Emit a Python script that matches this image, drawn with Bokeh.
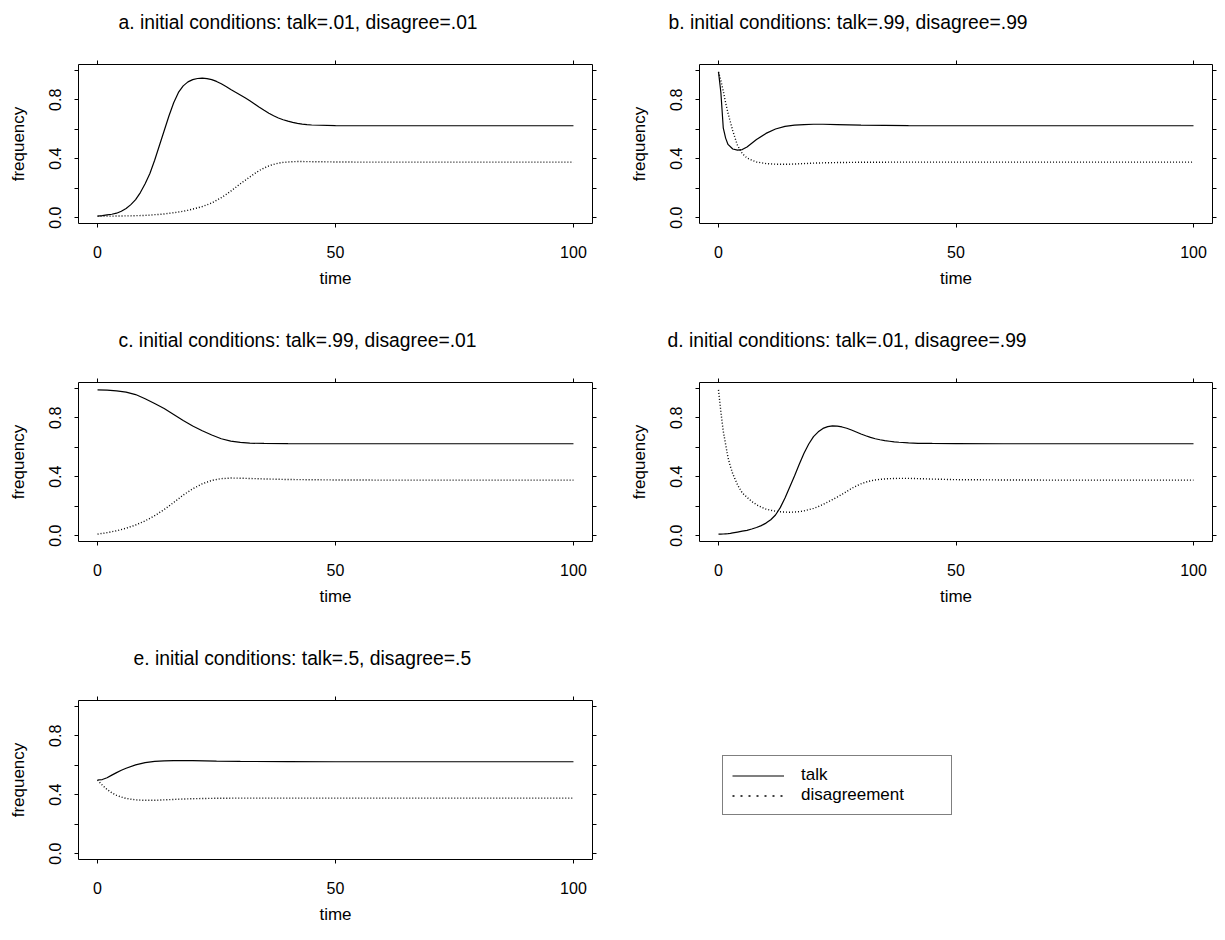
from bokeh.plotting import figure
from bokeh.models import Range1d, LinearAxis, FixedTicker, PrintfTickFormatter, ColumnDataSource
from bokeh.layouts import column, row
from bokeh.embed import file_html
from bokeh.resources import INLINE

FONT = "Liberation Sans"

# ---------------- data ----------------
titles = [
    "a. initial conditions: talk=.01, disagree=.01",
    "b. initial conditions: talk=.99, disagree=.99",
    "c. initial conditions: talk=.99, disagree=.01",
    "d. initial conditions: talk=.01, disagree=.99",
    "e. initial conditions: talk=.5, disagree=.5",
]
series_names = ["talk", "disagreement"]
x_ticks = [0, 50, 100]
y_major_ticks = [0.0, 0.4, 0.8]
y_minor_ticks = [0.2, 0.6, 1.0]
y_all_ticks = [0.0, 0.2, 0.4, 0.6, 0.8, 1.0]

time_a = [0, 1, 2, 3, 4, 5, 6, 7, 8, 9, 10, 11, 12, 13, 14, 15, 16, 17, 18, 19, 20, 21, 22, 23, 24, 25, 26, 27, 28, 29,
          30, 31, 32, 33, 34, 35, 36, 37, 38, 39, 40, 41, 42, 43, 44, 45, 50, 55, 60, 70, 80, 90, 100]
talk_a = [0.010, 0.013, 0.018, 0.023, 0.030, 0.043, 0.062, 0.088, 0.122, 0.170, 0.230, 0.300, 0.390, 0.490, 0.590,
          0.690, 0.780, 0.850, 0.895, 0.922, 0.937, 0.945, 0.947, 0.944, 0.937, 0.925, 0.909, 0.890, 0.870, 0.852,
          0.833, 0.814, 0.794, 0.772, 0.750, 0.729, 0.709, 0.692, 0.677, 0.665, 0.655, 0.647, 0.640, 0.635, 0.631,
          0.629, 0.625, 0.624, 0.624, 0.624, 0.624, 0.624, 0.624]
disagree_a = [0.010, 0.010, 0.010, 0.010, 0.011, 0.011, 0.012, 0.012, 0.013, 0.014, 0.015, 0.017, 0.020, 0.022, 0.025,
              0.029, 0.033, 0.038, 0.043, 0.050, 0.058, 0.066, 0.075, 0.087, 0.100, 0.117, 0.135, 0.157, 0.180, 0.205,
              0.230, 0.253, 0.276, 0.299, 0.320, 0.337, 0.351, 0.362, 0.370, 0.375, 0.378, 0.380, 0.381, 0.381, 0.380,
              0.380, 0.378, 0.377, 0.377, 0.377, 0.377, 0.377, 0.377]

time_b = [0, 0.5, 1, 1.5, 2, 3, 4, 5, 6, 7, 8, 10, 12, 14, 16, 18, 20, 22, 25, 30, 40, 50, 60, 70, 80, 90, 100]
talk_b = [0.99, 0.85, 0.61, 0.54, 0.497, 0.466, 0.458, 0.462, 0.48, 0.505, 0.53, 0.572, 0.602, 0.62, 0.628, 0.632,
          0.634, 0.634, 0.632, 0.628, 0.625, 0.624, 0.624, 0.624, 0.624, 0.624, 0.624]
disagree_b = [0.99, 0.93, 0.86, 0.78, 0.71, 0.59, 0.49, 0.435, 0.405, 0.39, 0.378, 0.367, 0.363, 0.362, 0.364, 0.367,
              0.37, 0.372, 0.374, 0.376, 0.377, 0.377, 0.377, 0.377, 0.377, 0.377, 0.377]

time_c = [0, 2, 4, 6, 8, 10, 12, 14, 16, 18, 20, 22, 24, 26, 28, 30, 32, 35, 40, 50, 60, 70, 80, 90, 100]
talk_c = [0.99, 0.988, 0.983, 0.975, 0.958, 0.93, 0.897, 0.863, 0.823, 0.782, 0.745, 0.712, 0.683, 0.658, 0.642,
          0.633, 0.628, 0.626, 0.625, 0.624, 0.624, 0.624, 0.624, 0.624, 0.624]
disagree_c = [0.01, 0.02, 0.033, 0.05, 0.072, 0.1, 0.135, 0.177, 0.225, 0.275, 0.318, 0.352, 0.375, 0.387, 0.391,
              0.39, 0.388, 0.385, 0.381, 0.378, 0.377, 0.377, 0.377, 0.377, 0.377]

time_d = [0, 0.5, 1, 1.5, 2, 2.5, 3, 4, 5, 6, 7, 8, 9, 10, 11, 12, 13, 14, 15, 16, 17, 18, 19, 20, 21, 22, 23, 24,
          25, 26, 27, 28, 29, 30, 31, 32, 33, 34, 35, 36, 37, 38, 40, 42, 45, 50, 60, 70, 80, 90, 100]
talk_d = [0.010, 0.010, 0.011, 0.012, 0.013, 0.015, 0.018, 0.024, 0.030, 0.036, 0.045, 0.055, 0.068, 0.085, 0.108,
          0.140, 0.190, 0.255, 0.330, 0.405, 0.485, 0.560, 0.622, 0.672, 0.705, 0.728, 0.740, 0.745, 0.744, 0.738,
          0.729, 0.717, 0.704, 0.690, 0.678, 0.667, 0.658, 0.651, 0.645, 0.641, 0.637, 0.634, 0.630, 0.627, 0.626,
          0.625, 0.624, 0.624, 0.624, 0.624, 0.624]
disagree_d = [0.99, 0.84, 0.71, 0.62, 0.53, 0.47, 0.42, 0.345, 0.29, 0.26, 0.232, 0.21, 0.193, 0.18, 0.172, 0.166,
              0.162, 0.16, 0.159, 0.16, 0.163, 0.168, 0.176, 0.185, 0.197, 0.212, 0.228, 0.245, 0.262, 0.28, 0.30,
              0.32, 0.337, 0.352, 0.363, 0.372, 0.378, 0.382, 0.385, 0.387, 0.388, 0.389, 0.389, 0.387, 0.384,
              0.38, 0.378, 0.377, 0.377, 0.377, 0.377]

time_e = [0, 1, 2, 3, 4, 5, 6, 8, 10, 12, 14, 16, 18, 20, 25, 30, 40, 50, 60, 70, 80, 90, 100]
talk_e = [0.5, 0.503, 0.515, 0.533, 0.55, 0.566, 0.58, 0.603, 0.618, 0.626, 0.63, 0.632, 0.632, 0.631, 0.628, 0.626,
          0.625, 0.624, 0.624, 0.624, 0.624, 0.624, 0.624]
disagree_e = [0.5, 0.465, 0.436, 0.413, 0.396, 0.384, 0.375, 0.365, 0.362, 0.362, 0.365, 0.368, 0.371, 0.373, 0.376,
              0.377, 0.377, 0.377, 0.377, 0.377, 0.377, 0.377, 0.377]

TALK_DASH = "solid"
DIS_DASH = "1 2"
LEGEND_DIS_DASH = "2 6"


def style_axis(ax, ticker):
    ax.ticker = ticker
    ax.axis_line_color = None
    ax.major_tick_in = 0
    ax.major_tick_out = 4
    ax.minor_tick_in = 0
    ax.minor_tick_out = 4
    ax.major_tick_line_color = "black"
    ax.minor_tick_line_color = "black"
    ax.major_tick_line_width = 1
    ax.minor_tick_line_width = 1


def unlabelled_axis(tick_positions):
    # no major ticks (so no labels); the short outside ticks are drawn as minor ticks
    ax = LinearAxis()
    style_axis(ax, FixedTicker(ticks=[], minor_ticks=tick_positions))
    return ax


def make_panel(title, t, talk, dis, width, left, right, height, bottom, title_offset):
    # the trailing line break keeps the title one text line higher above the frame
    p = figure(width=width, height=height, output_backend="svg", toolbar_location=None,
               x_range=Range1d(-4, 104), y_range=Range1d(-0.04, 1.04),
               min_border_left=left, min_border_right=right,
               min_border_top=64, min_border_bottom=bottom,
               title=title + "\n")
    p.background_fill_color = "white"
    p.border_fill_color = "white"
    p.grid.visible = False
    p.outline_line_color = "black"
    p.outline_line_width = 1

    p.title.align = "left"
    p.title.offset = title_offset
    p.title.vertical_align = "bottom"
    p.title.standoff = 14
    p.title.text_font = FONT
    p.title.text_font_size = "19.3px"
    p.title.text_font_style = "normal"
    p.title.text_color = "black"

    src = ColumnDataSource(data=dict(time=t, talk=talk, dis=dis))
    p.line("time", "talk", source=src, line_color="black", line_width=1.2, line_dash=TALK_DASH)
    p.line("time", "dis", source=src, line_color="black", line_width=1.4, line_dash=DIS_DASH)

    xa = p.xaxis[0]
    style_axis(xa, FixedTicker(ticks=x_ticks, minor_ticks=[]))
    xa.axis_label = "time"
    xa.major_label_standoff = 18
    xa.axis_label_standoff = 8

    ya = p.yaxis[0]
    style_axis(ya, FixedTicker(ticks=y_major_ticks, minor_ticks=y_minor_ticks))
    ya.axis_label = "frequency"
    ya.formatter = PrintfTickFormatter(format="%.1f")
    ya.major_label_orientation = "vertical"
    ya.major_label_standoff = 13
    ya.axis_label_standoff = 19

    for ax in (xa, ya):
        ax.major_label_text_font = FONT
        ax.major_label_text_font_size = "16px"
        ax.major_label_text_color = "black"
        ax.axis_label_text_font = FONT
        ax.axis_label_text_font_size = "17px"
        ax.axis_label_text_font_style = "normal"
        ax.axis_label_text_color = "black"

    p.add_layout(unlabelled_axis(x_ticks), "above")
    p.add_layout(unlabelled_axis(y_all_ticks), "right")
    return p


pa = make_panel(titles[0], time_a, talk_a, disagree_a, 612, 78, 20, 318, 95, 40)
pb = make_panel(titles[1], time_b, talk_b, disagree_b, 613, 87, 13, 318, 95, -31)
pc = make_panel(titles[2], time_c, talk_c, disagree_c, 612, 78, 20, 318, 95, 40)
pd = make_panel(titles[3], time_d, talk_d, disagree_d, 613, 87, 13, 318, 95, -32)
pe = make_panel(titles[4], time_e, talk_e, disagree_e, 612, 78, 20, 304, 81, 55)

# legend panel (legend-only renderers hold a single NaN point, so nothing is drawn in the frame)
pf = figure(width=613, height=304, output_backend="svg", toolbar_location=None,
            x_range=Range1d(0, 1), y_range=Range1d(0, 1),
            x_axis_type=None, y_axis_type=None,
            min_border_left=0, min_border_right=0, min_border_top=0, min_border_bottom=0)
pf.outline_line_color = None
pf.grid.visible = False
pf.background_fill_color = "white"
pf.border_fill_color = "white"
nan_src = ColumnDataSource(data=dict(x=[float("nan")], y=[float("nan")]))
pf.line("x", "y", source=nan_src, line_color="black", line_width=1.2, line_dash=TALK_DASH, legend_label=series_names[0])
pf.line("x", "y", source=nan_src, line_color="black", line_width=1.4, line_dash=LEGEND_DIS_DASH, legend_label=series_names[1])
lg = pf.legend[0]
lg.location = (110, 44)
lg.padding = 9
lg.margin = 0
lg.spacing = 0
lg.glyph_width = 52
lg.glyph_height = 19
lg.label_height = 19
lg.label_width = 141
lg.label_standoff = 17
lg.label_text_font = FONT
lg.label_text_font_size = "17px"
lg.label_text_color = "black"
lg.border_line_color = "black"
lg.border_line_width = 1
lg.background_fill_color = "white"
lg.background_fill_alpha = 1

layout = column(row(pa, pb), row(pc, pd), row(pe, pf))

open("out.html", "w").write(file_html(layout, INLINE))
